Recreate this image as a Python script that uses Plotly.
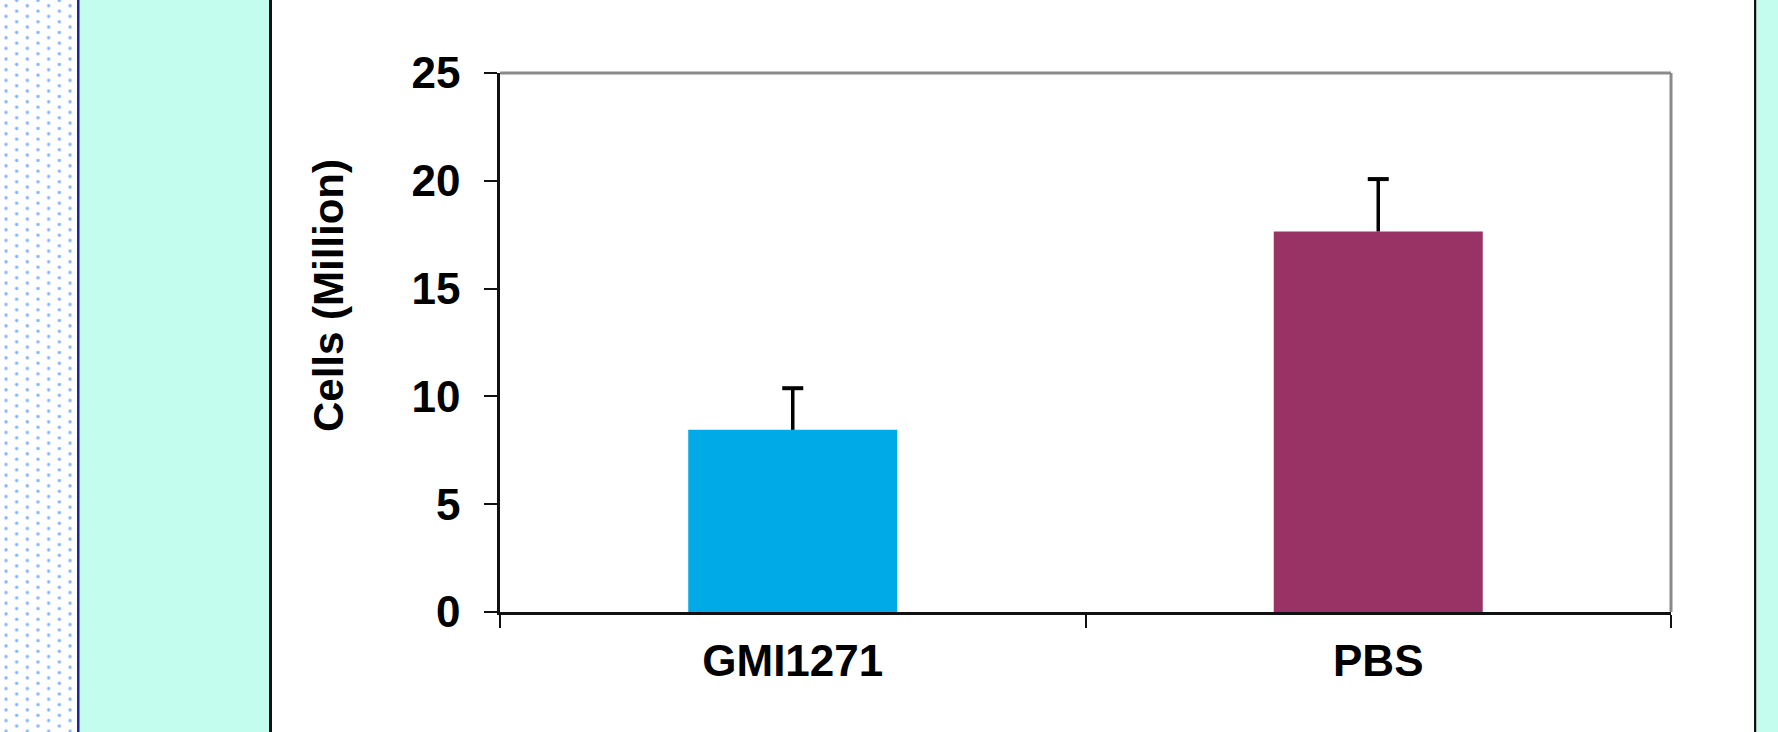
import base64
import plotly.graph_objects as go

# ---- data ----
categories = ["GMI1271", "PBS"]
values = [8.45, 17.65]
err_plus = [1.93, 2.43]
bar_colors = ["#00AAE6", "#993366"]
y_ticks = [0, 5, 10, 15, 20, 25]

W, H = 1778, 732
L, R, T, B = 500, 1671, 73, 612  # plot area in pixels
PW, PH = R - L, B - T


def px(x):
    return (x - L) / PW


def py(y):
    return (B - y) / PH


fig = go.Figure()
fig.add_trace(go.Bar(
    x=categories, y=values,
    marker=dict(color=bar_colors, line=dict(width=0)),
    width=0.357,
    showlegend=False, hoverinfo="skip",
))
# upward-only error bars (no shoe at bar top): stem from the cap down to bar top
tops = [v + e for v, e in zip(values, err_plus)]
fig.add_trace(go.Scatter(
    x=categories, y=tops, mode="markers",
    marker=dict(symbol="line-ew", size=15, color="black",
                line=dict(color="black", width=4)),
    error_y=dict(type="data", symmetric=False, array=[0, 0],
                 arrayminus=err_plus, color="black", thickness=3.5, width=0),
    showlegend=False,
))

font_fam = "Liberation Sans, Arial, sans-serif"

fig.update_layout(
    width=W, height=H,
    margin=dict(l=L, r=W - R, t=T, b=H - B, pad=0),
    paper_bgcolor="white", plot_bgcolor="white",
    xaxis=dict(
        type="category", showgrid=False, zeroline=False,
        showline=True, linecolor="#111", linewidth=2.5,
        ticks="outside", ticklen=13, tickwidth=2, tickcolor="#111",
        tickson="boundaries",
        tickfont=dict(family=font_fam, size=44, color="black", weight="bold"),
        ticklabelstandoff=8,
    ),
    yaxis=dict(
        range=[0, 25], tickvals=y_ticks, showgrid=False, zeroline=False,
        showline=True, linecolor="#111", linewidth=2.5,
        ticks="outside", ticklen=13, tickwidth=2, tickcolor="#111",
        tickfont=dict(family=font_fam, size=44, color="black", weight="bold"),
        ticklabelstandoff=15,
    ),
)

# y-axis title as rotated text
fig.add_annotation(
    text="Cells (Million)", textangle=-90, showarrow=False,
    xref="paper", yref="paper", x=px(328), y=py(296),
    xanchor="center", yanchor="middle",
    font=dict(family=font_fam, size=42, color="black", weight="bold"),
)

# top and right gray borders of plot area
fig.add_shape(type="line", xref="paper", yref="paper", x0=0, x1=1, y0=1, y1=1,
              line=dict(color="#8a8a8a", width=3))
fig.add_shape(type="line", xref="paper", yref="paper", x0=1, x1=1, y0=0, y1=1,
              line=dict(color="#8a8a8a", width=3))


def rect(x0, x1, color, y0=0, y1=H):
    fig.add_shape(type="rect", xref="paper", yref="paper",
                  x0=px(x0), x1=px(x1), y0=py(y1), y1=py(y0),
                  fillcolor=color, line=dict(width=0), layer="below")


# slide decoration
rect(79, 269, "#C3FDED")
rect(77, 79.5, "#23239A")
rect(269, 272, "#111111")
rect(1754, 1756.5, "#111111")
rect(1756.5, 1778, "#C3FDED")

# dotted pattern strip on the far left
dot = "#86B6FF"
svg = (
    '<svg xmlns="http://www.w3.org/2000/svg" width="77" height="732">'
    '<defs><pattern id="p" patternUnits="userSpaceOnUse" width="21.33" height="10.67">'
    f'<circle cx="6" cy="5.7" r="1.7" fill="{dot}"/>'
    f'<circle cx="16.67" cy="0.37" r="1.7" fill="{dot}"/>'
    f'<circle cx="16.67" cy="11.04" r="1.7" fill="{dot}"/>'
    '</pattern></defs>'
    '<rect width="77" height="732" fill="white"/>'
    '<rect width="77" height="732" fill="url(#p)"/>'
    '</svg>'
)
src = "data:image/svg+xml;base64," + base64.b64encode(svg.encode()).decode()
fig.add_layout_image(dict(
    source=src, xref="paper", yref="paper",
    x=px(0), y=py(0), sizex=77 / PW, sizey=H / PH,
    xanchor="left", yanchor="top", sizing="stretch", layer="below",
))

fig.write_html(
    "out.html",
    config={"displayModeBar": False},
    post_script="document.body.style.margin='0';document.body.style.overflow='hidden';",
)
